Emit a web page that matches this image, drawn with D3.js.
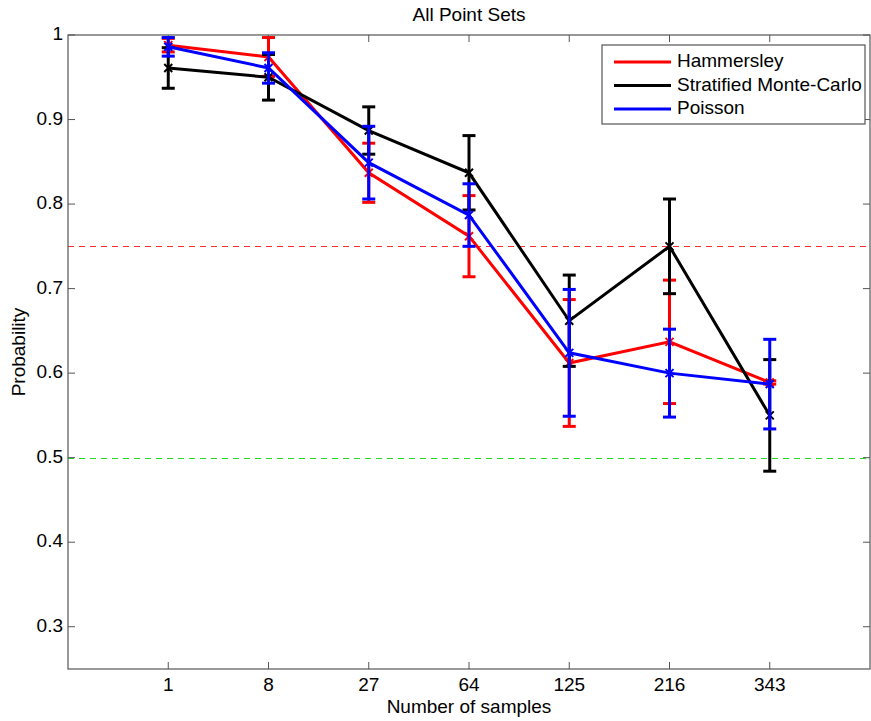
<!DOCTYPE html>
<html>
<head>
<meta charset="utf-8">
<script src="https://cdn.jsdelivr.net/npm/d3@7"></script>
<style>
  body { margin: 0; background: #fff; }
  text { font-family: "Liberation Sans", Arial, sans-serif; fill: #000; }
</style>
</head>
<body>
<div id="chart"></div>
<script>
const categories = ["1", "8", "27", "64", "125", "216", "343"];
const yTicks = [0.3, 0.4, 0.5, 0.6, 0.7, 0.8, 0.9, 1];

const hammersley = [0.988, 0.974, 0.837, 0.762, 0.612, 0.637, 0.589];
const hammersleyErr = [0.008, 0.023, 0.035, 0.048, 0.075, 0.073, 0.002];
const stratified = [0.961, 0.950, 0.887, 0.837, 0.662, 0.750, 0.550];
const stratifiedErr = [0.024, 0.027, 0.028, 0.044, 0.054, 0.056, 0.066];
const poisson = [0.986, 0.961, 0.849, 0.787, 0.624, 0.600, 0.587];
const poissonErr = [0.011, 0.018, 0.043, 0.037, 0.075, 0.052, 0.053];

const refLines = [
    { value: 0.75, color: "#ff3030" },
    { value: 0.5, color: "#22dd22" }
];

const series = [
    { name: "Hammersley", color: "#ff0000", values: hammersley, errors: hammersleyErr },
    { name: "Stratified Monte-Carlo", color: "#000000", values: stratified, errors: stratifiedErr },
    { name: "Poisson", color: "#0000ff", values: poisson, errors: poissonErr }
];

const W = 871, H = 721;
const plot = { left: 68, right: 870, top: 35, bottom: 669 };
const fontSize = "19px";

const svg = d3.select("#chart")
    .append("svg")
    .attr("width", W)
    .attr("height", H);

const xScale = d3.scaleLinear().domain([0, categories.length + 1]).range([plot.left, plot.right]);
const yScale = d3.scaleLinear().domain([0.25, 1]).range([plot.bottom, plot.top]);
const xPos = i => xScale(i + 1);

// reference lines
svg.selectAll(".refLine")
    .data(refLines)
    .enter().append("line")
    .attr("class", "refLine")
    .attr("x1", plot.left)
    .attr("x2", plot.right)
    .attr("y1", d => Math.round(yScale(d.value)) + 0.5)
    .attr("y2", d => Math.round(yScale(d.value)) + 0.5)
    .attr("stroke", d => d.color)
    .attr("stroke-width", 1)
    .attr("stroke-dasharray", "6,5");

// frame
const frameColor = "#555";
svg.append("rect")
    .attr("x", plot.left)
    .attr("y", plot.top)
    .attr("width", plot.right - plot.left)
    .attr("height", plot.bottom - plot.top)
    .attr("fill", "none")
    .attr("stroke", frameColor)
    .attr("stroke-width", 1.2);

const tickLen = 7;
categories.forEach((c, i) => {
    const x = xPos(i);
    svg.append("line").attr("x1", x).attr("x2", x).attr("y1", plot.bottom).attr("y2", plot.bottom - tickLen).attr("stroke", frameColor);
    svg.append("line").attr("x1", x).attr("x2", x).attr("y1", plot.top).attr("y2", plot.top + tickLen).attr("stroke", frameColor);
    svg.append("text")
        .attr("x", x)
        .attr("y", plot.bottom + 17)
        .attr("text-anchor", "middle")
        .attr("dominant-baseline", "middle")
        .attr("font-size", fontSize)
        .text(c);
});

yTicks.forEach(t => {
    const y = yScale(t);
    svg.append("line").attr("x1", plot.left).attr("x2", plot.left + tickLen).attr("y1", y).attr("y2", y).attr("stroke", frameColor);
    svg.append("line").attr("x1", plot.right).attr("x2", plot.right - tickLen).attr("y1", y).attr("y2", y).attr("stroke", frameColor);
    svg.append("text")
        .attr("x", plot.left - 5)
        .attr("y", y)
        .attr("text-anchor", "end")
        .attr("dominant-baseline", "middle")
        .attr("font-size", fontSize)
        .text(d3.format("~g")(t));
});

// series: error bars, lines, markers
const line = d3.line()
    .x((d, i) => xPos(i))
    .y(d => yScale(d));
const capW = 6.5;

series.forEach(s => {
    const g = svg.append("g").attr("class", "series");
    s.values.forEach((v, i) => {
        const x = xPos(i);
        const y0 = yScale(v - s.errors[i]);
        const y1 = yScale(v + s.errors[i]);
        g.append("line").attr("x1", x).attr("x2", x).attr("y1", y0).attr("y2", y1)
            .attr("stroke", s.color).attr("stroke-width", 3);
        [y0, y1].forEach(yc => {
            g.append("line").attr("x1", x - capW).attr("x2", x + capW).attr("y1", yc).attr("y2", yc)
                .attr("stroke", s.color).attr("stroke-width", 3);
        });
    });
    g.append("path")
        .datum(s.values)
        .attr("fill", "none")
        .attr("stroke", s.color)
        .attr("stroke-width", 3)
        .attr("d", line);
    s.values.forEach((v, i) => {
        const x = xPos(i), y = yScale(v), m = 4;
        g.append("path")
            .attr("d", `M${x - m},${y - m}L${x + m},${y + m}M${x - m},${y + m}L${x + m},${y - m}`)
            .attr("stroke", s.color)
            .attr("stroke-width", 2);
    });
});

// titles
svg.append("text")
    .attr("x", (plot.left + plot.right) / 2)
    .attr("y", 21)
    .attr("text-anchor", "middle")
    .attr("font-size", fontSize)
    .text("All Point Sets");

svg.append("text")
    .attr("x", (plot.left + plot.right) / 2)
    .attr("y", 708)
    .attr("text-anchor", "middle")
    .attr("dominant-baseline", "middle")
    .attr("font-size", fontSize)
    .text("Number of samples");

const midY = (plot.top + plot.bottom) / 2;
svg.append("text")
    .attr("x", 20)
    .attr("y", midY)
    .attr("text-anchor", "middle")
    .attr("dominant-baseline", "middle")
    .attr("transform", `rotate(-90, 20, ${midY})`)
    .attr("font-size", fontSize)
    .text("Probability");

// legend
const legend = svg.append("g").attr("class", "legend");
legend.append("rect")
    .attr("x", 602)
    .attr("y", 45)
    .attr("width", 263)
    .attr("height", 79)
    .attr("fill", "#fff")
    .attr("stroke", frameColor)
    .attr("stroke-width", 1.2);

series.forEach((s, i) => {
    const y = 62 + i * 23.5;
    legend.append("line")
        .attr("x1", 614)
        .attr("x2", 671)
        .attr("y1", y)
        .attr("y2", y)
        .attr("stroke", s.color)
        .attr("stroke-width", 3);
    legend.append("text")
        .attr("x", 677)
        .attr("y", y)
        .attr("dominant-baseline", "middle")
        .attr("font-size", fontSize)
        .text(s.name);
});
</script>
</body>
</html>
